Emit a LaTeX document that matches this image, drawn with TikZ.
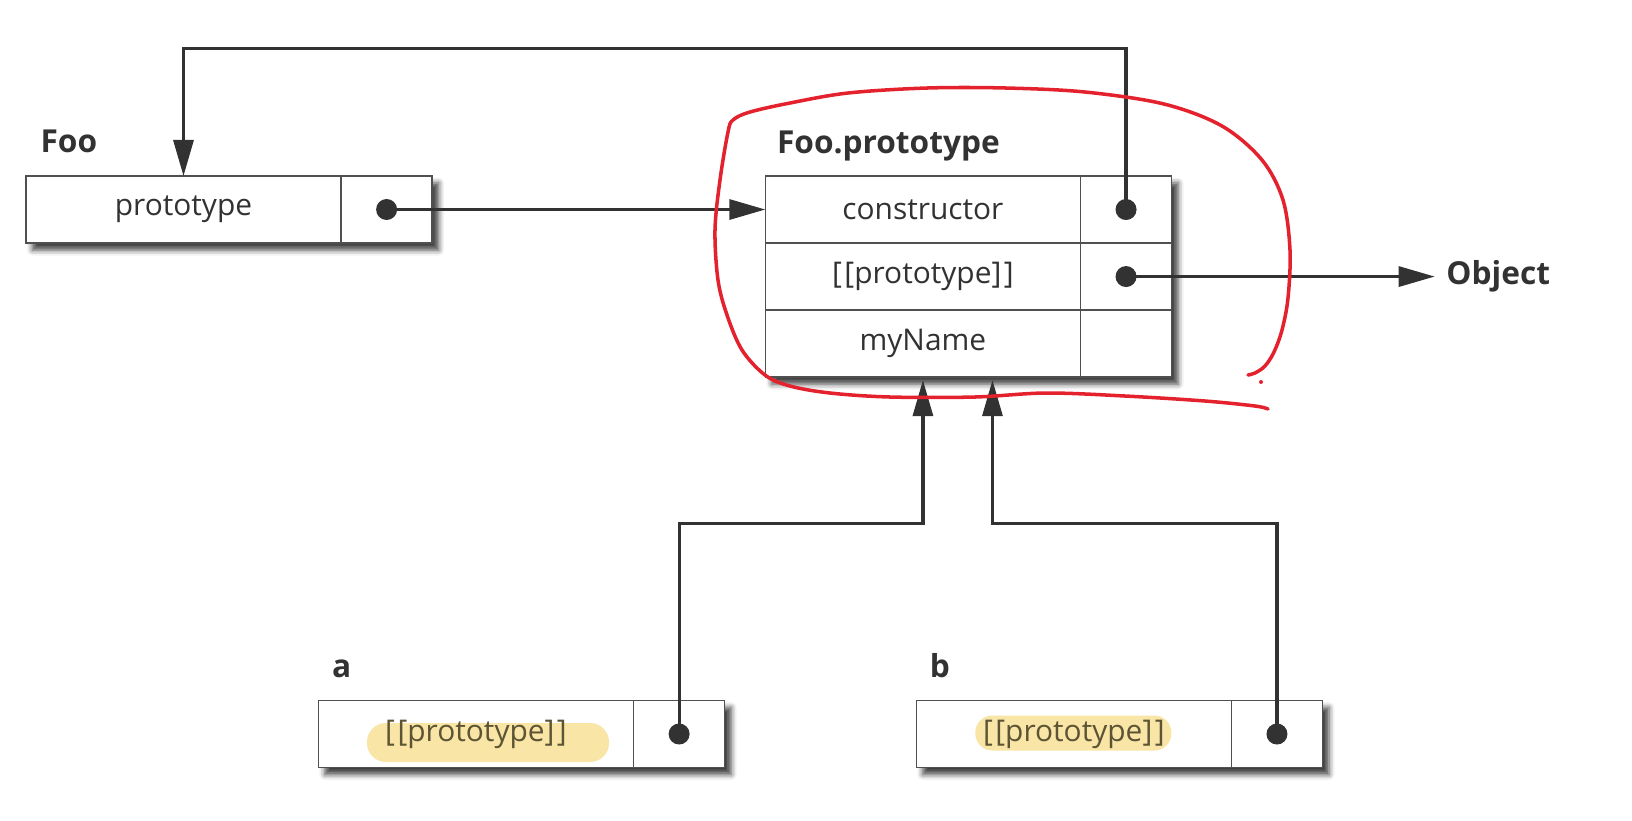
\documentclass[tikz,border=0pt]{standalone}
\usepackage{fontspec}
\setmainfont{Open Sans}
\usetikzlibrary{positioning,arrows.meta,shadows.blur,backgrounds}

\definecolor{inkgray}{RGB}{50,50,50}
\definecolor{linegray}{RGB}{80,80,80}
\definecolor{hlyellow}{RGB}{249,229,166}
\definecolor{hltext}{RGB}{92,84,52}
\definecolor{penred}{RGB}{228,34,46}

\tikzset{
  cell/.style={rectangle, draw=linegray, line width=0.4pt, fill=white, outer sep=0pt,
    minimum width=3.15cm, minimum height=0.67cm, inner sep=0pt, text=inkgray,
    font=\fontsize{8.5}{10}\selectfont},
  ptr/.style={cell, minimum width=0.91cm},
  recshadow/.style={fill=white, blur shadow={shadow xshift=0.065cm, shadow yshift=-0.07cm,
    shadow blur radius=0.055cm, shadow opacity=75}},
  dot/.style={circle, fill=inkgray, minimum size=0.21cm, inner sep=0pt},
  lbl/.style={font=\fontsize{9}{11}\selectfont\bfseries, text=inkgray, inner sep=0pt, anchor=base west},
  conn/.style={draw=inkgray, line width=0.9pt},
  >={Triangle[length=0.36cm, width=0.2cm]},
}
\newcommand{\slot}{[\kern0.7pt[prototype]\kern0.7pt]}

\begin{document}
\begin{tikzpicture}[x=0.01cm, y=-0.01cm]
  \useasboundingbox (0,0) rectangle (1632,820);

  % Foo
  \node[cell] (Fooname) at (183.5,209.5) {prototype};
  \node[ptr, right=0pt of Fooname] (Fooptr) {};
  \node[lbl] (FooLbl) at ([xshift=0.14cm, yshift=0.23cm]Fooname.north west) {Foo};

  % Foo.prototype
  \node[cell, right=3.33cm of Fooptr] (Pctor) {constructor};
  \node[cell, below=0pt of Pctor] (Pproto) {\slot};
  \node[cell, below=0pt of Pproto] (Pname) {myName};
  \foreach \row/\pt in {Pctor/Cp, Pproto/Pp, Pname/Np}
    \node[ptr, right=0pt of \row] (\pt) {};
  \node[lbl] (PLbl) at ([xshift=0.11cm, yshift=0.22cm]Pctor.north west) {Foo.prototype};
  \node[font=\fontsize{9}{11}\selectfont\bfseries, text=inkgray, inner sep=0.11cm, right=2.63cm of Pp] (Obj) {Object};

  % a and b
  \node[cell, text=hltext, path picture={\fill[hlyellow, rounded corners=0.19cm]
      ([xshift=-1.09cm, yshift=-0.28cm]path picture bounding box.center) rectangle ++(2.42cm,0.39cm);}]
    (aname) at (476,734) {\slot};
  \node[ptr, right=0pt of aname] (aptr) {};
  \node[lbl] (aLbl) at ([xshift=0.13cm, yshift=0.23cm]aname.north west) {a};
  \node[cell, text=hltext, right=1.915cm of aptr, path picture={\fill[hlyellow, rounded corners=0.17cm]
      ([xshift=-0.985cm, yshift=-0.165cm]path picture bounding box.center) rectangle ++(1.96cm,0.35cm);}]
    (bname) {\slot};
  \node[ptr, right=0pt of bname] (bptr) {};
  \node[lbl] (bLbl) at ([xshift=0.13cm, yshift=0.225cm]bname.north west) {b};

  % drop shadows behind each record
  \begin{scope}[on background layer]
    \foreach \nw/\se in {Fooname/Fooptr, Pctor/Np, aname/aptr, bname/bptr}
      \path[recshadow] (\nw.north west) rectangle (\se.south east);
  \end{scope}

  % pointers
  \node[dot] (Foodot) at (Fooptr) {};
  \node[dot] (Cdot) at (Cp) {};
  \node[dot] (Pdot) at (Pp) {};
  \node[dot] (adot) at (aptr) {};
  \node[dot] (bdot) at (bptr) {};

  \draw[conn, ->] (Foodot.center) -- (Pctor.west);
  \coordinate (ctorTop) at ([yshift=1.61cm]Cdot.center);
  \draw[conn, ->] (Cdot.center) -- (ctorTop) -| (Fooname.north);
  \draw[conn, ->] (Pdot.center) -- (Obj.west);
  \coordinate (amid) at ([yshift=-1.46cm]Pname.south);
  \coordinate (bend) at ([xshift=0.695cm, yshift=-0.03cm]Pname.south);
  \coordinate (bmid) at ([yshift=-1.43cm]bend);
  \draw[conn, ->, shorten >=0.03cm] (adot.center) |- (amid) -- (Pname.south);
  \draw[conn, ->] (bdot.center) |- (bmid) -- (bend);

  % red pen loop
  \draw[penred, line width=1pt, line cap=round, line join=round] plot[smooth, tension=0.55] coordinates {
    (1268,409) (1255,406) (1205,401) (1125,396) (1046,393) (975,397) (890,397) (830,393)
    (790,386) (765,375) (742,350) (727,315) (718,280) (715,230) (720,180) (728,132) (733,120)
    (750,112) (790,103) (848,93) (927,88) (1006,88) (1085,92) (1164,104) (1222,126) (1262,160)
    (1283,200) (1290,250) (1288,298) (1282,330) (1274,352) (1265,366) (1255,373) (1248,375)};
  \fill[penred] (1261,382) circle (0.02cm);
\end{tikzpicture}
\end{document}
